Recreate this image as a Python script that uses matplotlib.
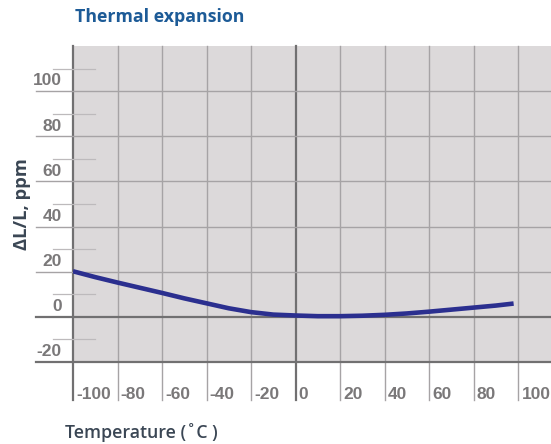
import matplotlib
matplotlib.use('Agg')
import matplotlib.pyplot as plt
import numpy as np

# curve (temperature in C, dL/L in ppm)
temp = [-100, -90, -80, -70, -60, -50, -40, -30, -20, -10, 0, 10, 20, 30, 40, 50, 60, 70, 80, 90, 98]
dl_l = [20.2, 17.6, 15.2, 12.9, 10.6, 8.2, 6.0, 3.8, 2.1, 1.0, 0.6, 0.3, 0.3, 0.5, 0.9, 1.5, 2.3, 3.2, 4.1, 5.0, 5.9]

x_ticks = [-100, -80, -60, -40, -20, 0, 20, 40, 60, 80, 100]
y_ticks = [-20, 0, 20, 40, 60, 80, 100]
y_minor = [-10, 10, 30, 50, 70, 90, 110]

title = 'Thermal expansion'
x_label = 'Temperature (˚C )'
y_label = 'ΔL/L, ppm'

bg = '#dcd9da'
grid_c = '#a6a3a5'
axis_c = '#717071'
tick_c = '#7a7879'
line_c = '#2b2f8f'

fig = plt.figure(figsize=(5.51, 4.44), dpi=100)
ax = fig.add_axes([73/551, 82/444, 478/551, 316/444])
ax.set_xlim(-100, 114.8)
ax.set_ylim(-20, 120)
ax.set_facecolor(bg)
for s in ax.spines.values():
    s.set_visible(False)
ax.set_xticks([])
ax.set_yticks([])

# vertical grid, running down below the plot area
for x in x_ticks:
    dark = x in (-100, 0)
    ax.plot([x, x], [-37, 120], color=axis_c if dark else grid_c,
            lw=1.6 if dark else 1.0, clip_on=False, zorder=1)

# horizontal grid, running left past the axis
for y in y_ticks:
    dark = y in (-20, 0)
    ax.plot([-116.6, 114.8], [y, y], color=axis_c if dark else grid_c,
            lw=1.6 if dark else 1.0, clip_on=False, zorder=1)
for y in y_minor:
    ax.plot([-109.0, -90.1], [y, y], color='#bdbabc', lw=0.9, clip_on=False, zorder=1)

ax.plot(temp, dl_l, color=line_c, lw=3.3, solid_capstyle='butt', zorder=3)

lab_font = dict(family='Liberation Sans', weight='bold', size=12.5, color=tick_c)
for y in y_ticks:
    ax.text(-105, y + 1.2, str(y), ha='right', va='bottom', clip_on=False, **lab_font)
for x in x_ticks:
    ax.text(x + 1.5, -34.6, str(x), ha='left', va='center', clip_on=False, **lab_font)

fig.text(75/551, 1 - 17/444, title, ha='left', va='center',
         family='Open Sans', weight='bold', size=12.8, color='#1d5b97')
fig.text(65/551, 1 - 432/444, x_label, ha='left', va='center',
         family='Open Sans', weight='semibold', size=12.8, color='#3a4654')
fig.text(22/551, 1 - 204/444, y_label, ha='center', va='center', rotation=90,
         family='Open Sans', weight='bold', size=13.2, color='#3a4654')

fig.savefig('out.png', dpi=100)
